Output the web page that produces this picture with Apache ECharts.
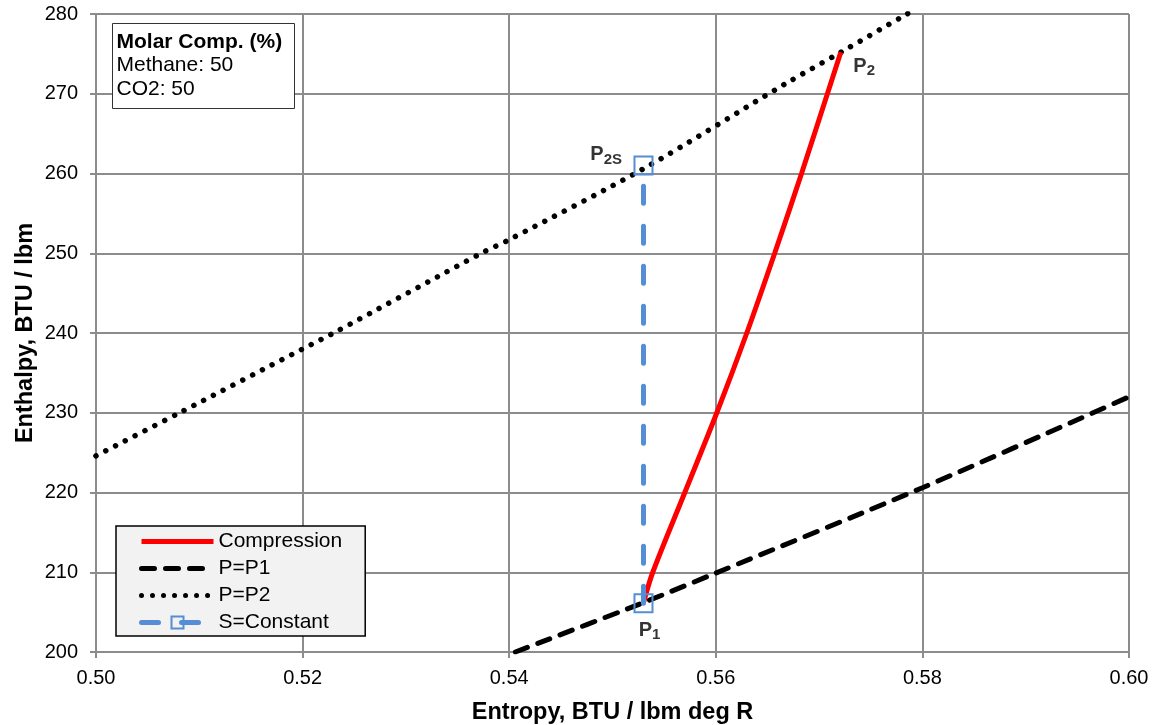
<!DOCTYPE html>
<html>
<head>
<meta charset="utf-8">
<script src="https://cdn.jsdelivr.net/npm/echarts@6/dist/echarts.min.js"></script>
<style>
  html, body { margin: 0; padding: 0; background: #fff; }
  #chart { width: 1154px; height: 725px; }
</style>
</head>
<body>
<div id="chart"></div>
<script>
// entropy (BTU/lbm deg R), enthalpy (BTU/lbm)
const compressionS = [0.5530, 0.5539, 0.5570, 0.5601, 0.5630, 0.5657, 0.5683, 0.5721]
const compressionH = [206.2, 210, 220, 230, 240, 250, 260, 275.2]

const p1S = [0.5406, 0.553, 0.560, 0.580, 0.600]
const p1H = [200, 206.2, 209.9, 220.6, 232.0]

const p2S = [0.500, 0.5081, 0.520, 0.523, 0.5373, 0.540, 0.553, 0.5668, 0.5721, 0.5785, 0.580]
const p2H = [224.6, 230, 238.0, 240, 250, 251.7, 260.6, 271.3, 275.2, 280, 281.1]

const isoS = [0.553, 0.553]
const isoH = [206.1, 261.0]

// state point labels: P1, P2S, P2
const pointNames = ['1', '2S', '2']
const pointS = [0.553, 0.553, 0.5721]
const pointH = [206.1, 261.0, 275.2]

const xTicks = { min: 0.50, max: 0.60, step: 0.02 }
const yTicks = { min: 200, max: 280, step: 10 }

const FONT = 'Liberation Sans, Arial, sans-serif'
const GRID = '#8c8c8c'
const BLUE = '#558ed5'

const zip = (a, b) => a.map((v, i) => [v, b[i]])

const sub = {
  p: { fontSize: 20, fontWeight: 'bold', color: '#000', fontFamily: FONT },
  s: { fontSize: 15, fontWeight: 'bold', color: '#000', fontFamily: FONT, padding: [10, 0, 0, 0] },
}

// where each state label sits around its point
const labelPlacement = [
  { position: 'bottom', distance: 14, offset: [6, 0] },
  { position: 'left', distance: 21, offset: [0, -11] },
  { position: 'right', distance: 12, offset: [0, 14] },
]

const chart = echarts.init(document.getElementById('chart'))

chart.setOption({
  animation: false,
  grid: { left: 96, right: 25, top: 14, bottom: 73, outerBoundsMode: 'none' },
  xAxis: {
    type: 'value',
    min: xTicks.min,
    max: xTicks.max,
    interval: xTicks.step,
    name: 'Entropy, BTU / lbm deg R',
    nameLocation: 'middle',
    nameGap: 49,
    nameMoveOverlap: false,
    nameTextStyle: { fontSize: 23.5, fontWeight: 'bold', color: '#000', fontFamily: FONT },
    axisLine: { lineStyle: { color: GRID, width: 2 } },
    axisTick: { show: true, length: 6, lineStyle: { color: GRID, width: 2 } },
    axisLabel: {
      fontSize: 20, color: '#000', fontFamily: FONT, margin: 16,
      formatter: v => v.toFixed(2),
    },
    splitLine: { show: true, lineStyle: { color: GRID, width: 2 } },
  },
  yAxis: {
    type: 'value',
    min: yTicks.min,
    max: yTicks.max,
    interval: yTicks.step,
    name: 'Enthalpy, BTU / lbm',
    nameLocation: 'middle',
    nameGap: 58,
    nameMoveOverlap: false,
    nameTextStyle: { fontSize: 23.5, fontWeight: 'bold', color: '#000', fontFamily: FONT },
    axisLine: { show: true, lineStyle: { color: GRID, width: 2 } },
    axisTick: { show: true, length: 6, lineStyle: { color: GRID, width: 2 } },
    axisLabel: { fontSize: 20, color: '#000', fontFamily: FONT, margin: 18 },
    splitLine: { show: true, lineStyle: { color: GRID, width: 2 } },
  },
  legend: {
    orient: 'vertical',
    left: 116,
    top: 526,
    padding: [5, 23, 3, 23],
    itemWidth: 72,
    itemHeight: 15,
    itemGap: 6,
    backgroundColor: '#f2f2f2',
    borderColor: '#000',
    borderWidth: 1.5,
    borderRadius: 0,
    z: 10,
    textStyle: { fontSize: 21, color: '#000', fontFamily: FONT },
    data: [
      { name: 'Compression', itemStyle: { opacity: 0 }, lineStyle: { width: 5 } },
      { name: 'P=P1', itemStyle: { opacity: 0 }, lineStyle: { width: 5 } },
      { name: 'P=P2', itemStyle: { opacity: 0 }, lineStyle: { width: 5 } },
      { name: 'S=Constant', lineStyle: { width: 5 } },
    ],
  },
  graphic: [{
    type: 'group',
    left: 112,
    top: 23,
    z: 100,
    children: [
      { type: 'rect', z: 100, shape: { x: 0, y: 0, width: 182, height: 85 },
        style: { fill: '#fff', stroke: '#333', lineWidth: 1 } },
      { type: 'text', z: 101, x: 4, y: 19,
        style: { text: 'Molar Comp. (%)', font: 'bold 21px ' + FONT, fill: '#000', verticalAlign: 'middle' } },
      { type: 'text', z: 101, x: 4, y: 42,
        style: { text: 'Methane: 50', font: '21px ' + FONT, fill: '#000', verticalAlign: 'middle' } },
      { type: 'text', z: 101, x: 4, y: 66,
        style: { text: 'CO2: 50', font: '21px ' + FONT, fill: '#000', verticalAlign: 'middle' } },
    ],
  }],
  series: [
    {
      name: 'Compression',
      type: 'line',
      smooth: 0.3,
      symbol: 'none',
      data: zip(compressionS, compressionH),
      lineStyle: { color: '#ff0000', width: 5 },
      itemStyle: { color: '#ff0000' },
      z: 3,
    },
    {
      name: 'P=P1',
      type: 'line',
      smooth: 0.3,
      symbol: 'none',
      data: zip(p1S, p1H),
      lineStyle: { color: '#000', width: 5, type: [13, 11], cap: 'round' },
      itemStyle: { color: '#000' },
      z: 2,
    },
    {
      name: 'P=P2',
      type: 'line',
      smooth: 0.3,
      symbol: 'none',
      data: zip(p2S, p2H),
      lineStyle: { color: '#000', width: 5.5, type: [0.01, 11], cap: 'round' },
      itemStyle: { color: '#000' },
      z: 2,
    },
    {
      name: 'S=Constant',
      type: 'line',
      symbol: 'rect',
      symbolSize: 18,
      data: zip(isoS, isoH),
      lineStyle: { color: BLUE, width: 5, type: [17, 23], cap: 'round' },
      itemStyle: { color: 'rgba(255,255,255,0)', borderColor: BLUE, borderWidth: 2 },
      z: 4,
    },
    {
      name: 'labels',
      type: 'scatter',
      symbolSize: 1,
      silent: true,
      itemStyle: { color: 'rgba(0,0,0,0)' },
      data: pointNames.map((n, i) => ({
        value: [pointS[i], pointH[i]],
        label: {
          show: true,
          ...labelPlacement[i],
          formatter: '{p|P}{s|' + n + '}',
          rich: sub,
        },
      })),
      z: 5,
    },
  ],
})
</script>
</body>
</html>
